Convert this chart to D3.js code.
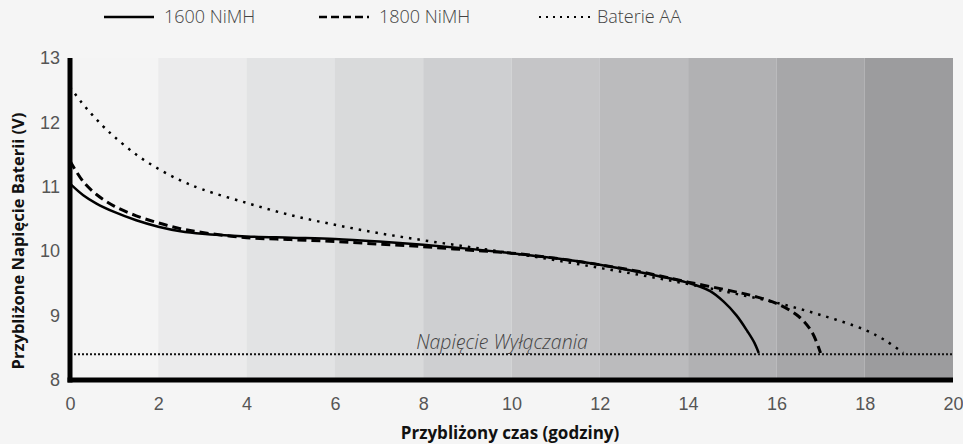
<!DOCTYPE html>
<meta charset="utf-8">
<style>
  body { margin: 0; background: #f5f5f5; }
  svg { display: block; font-family: "Open Sans", sans-serif; }
  .tick text { fill: #555; font-size: 18px; font-weight: 300; }
  .title { font-weight: bold; fill: #111; }
  .legend text { font-size: 18px; fill: #444; font-weight: 300; }
</style>
<body>
<svg width="963" height="444"></svg>
<script src="https://d3js.org/d3.v7.min.js"></script>
<script>

// data
var xTicks = [0, 2, 4, 6, 8, 10, 12, 14, 16, 18, 20];
var yTicks = [8, 9, 10, 11, 12, 13];
var bandShades = ["#f4f4f4", "#ebebec", "#e2e3e4", "#d9dadb", "#cecfd1",
                  "#c5c5c7", "#bbbbbd", "#b1b1b3", "#a7a7a9", "#9c9c9e"];
var cutoffVoltage = 8.4;

var nimh1600 = [[0, 11.05], [0.3, 10.87], [0.6, 10.74], [1, 10.61], [1.5, 10.48], [2, 10.38],
  [2.5, 10.31], [3, 10.27], [4, 10.23], [5, 10.21], [6, 10.19], [7, 10.15], [8, 10.1],
  [9, 10.04], [10, 9.97], [11, 9.89], [12, 9.79], [13, 9.66], [14, 9.51], [14.5, 9.38],
  [14.8, 9.22], [15.1, 9.0], [15.35, 8.75], [15.5, 8.58], [15.6, 8.42]];

var nimh1800 = [[0, 11.4], [0.3, 11.08], [0.6, 10.88], [1, 10.7], [1.5, 10.55], [2, 10.44],
  [2.5, 10.35], [3, 10.29], [4, 10.21], [5, 10.18], [6, 10.15], [7, 10.11], [8, 10.07],
  [9, 10.02], [10, 9.97], [11, 9.89], [12, 9.79], [13, 9.67], [14, 9.52], [15, 9.38],
  [15.5, 9.3], [16, 9.19], [16.5, 8.99], [16.8, 8.75], [17, 8.42]];

var bateriaAA = [[0, 12.55], [0.25, 12.32], [0.5, 12.12], [0.75, 11.94], [1, 11.78],
  [1.5, 11.5], [2, 11.28], [2.5, 11.1], [3, 10.96], [4, 10.75], [5, 10.56], [6, 10.41],
  [7, 10.28], [8, 10.17], [9, 10.07], [10, 9.97], [11, 9.86], [12, 9.74], [13, 9.62],
  [14, 9.49], [15, 9.35], [16, 9.2], [17, 9.01], [18, 8.78], [18.5, 8.6], [18.87, 8.42]];

var series = [
  { name: "1600 NiMH", values: nimh1600, width: 2.5, dash: null },
  { name: "1800 NiMH", values: nimh1800, width: 3, dash: "9,5" },
  { name: "Baterie AA", values: bateriaAA, width: 2.5, dash: "2.5,6" }
];

var svg = d3.select("svg");

var x = d3.scaleLinear().domain([0, 20]).range([70, 953]);
var y = d3.scaleLinear().domain([8, 13]).range([380, 58]);

// shaded bands, one per 2 hours
svg.append("g")
    .selectAll("rect")
    .data(bandShades)
    .enter().append("rect")
    .attr("x", function(d, i) { return x(i * 2); })
    .attr("y", y(13))
    .attr("width", function(d, i) { return x(i * 2 + 2) - x(i * 2); })
    .attr("height", y(8) - y(13))
    .attr("fill", function(d) { return d; });

// cutoff line
svg.append("line")
    .attr("x1", x(0)).attr("x2", x(20))
    .attr("y1", y(cutoffVoltage)).attr("y2", y(cutoffVoltage))
    .attr("stroke", "#111")
    .attr("stroke-width", 2)
    .attr("stroke-dasharray", "2,2");

svg.append("text")
    .attr("x", 502)
    .attr("y", y(cutoffVoltage) - 5)
    .attr("text-anchor", "middle")
    .style("font-size", "19.5px")
    .style("font-style", "italic")
    .style("font-weight", 300)
    .style("fill", "#444")
    .text("Napięcie Wyłączania");

var line = d3.line()
    .x(function(d) { return x(d[0]); })
    .y(function(d) { return y(d[1]); })
    .curve(d3.curveCatmullRom.alpha(0.5));

svg.append("g")
    .selectAll("path")
    .data(series)
    .enter().append("path")
    .attr("d", function(d) { return line(d.values); })
    .attr("fill", "none")
    .attr("stroke", "#000")
    .attr("stroke-width", function(d) { return d.width; })
    .attr("stroke-dasharray", function(d) { return d.dash; });

// axes
var xAxis = svg.append("g")
    .attr("transform", "translate(0," + y(8) + ")")
    .call(d3.axisBottom(x).tickValues(xTicks).tickSize(0).tickPadding(17));
xAxis.select(".domain").remove();

var yAxis = svg.append("g")
    .attr("transform", "translate(" + x(0) + ",0)")
    .call(d3.axisLeft(y).tickValues(yTicks).tickFormat(d3.format("d")).tickSize(0).tickPadding(10));
yAxis.select(".domain").remove();

svg.append("line")
    .attr("x1", x(0)).attr("x2", x(0))
    .attr("y1", y(13)).attr("y2", y(8) + 2.5)
    .attr("stroke", "#000").attr("stroke-width", 5);

svg.append("line")
    .attr("x1", x(0) - 2.5).attr("x2", x(20))
    .attr("y1", y(8)).attr("y2", y(8))
    .attr("stroke", "#000").attr("stroke-width", 5);

svg.append("text")
    .attr("class", "title")
    .attr("x", 510)
    .attr("y", 439)
    .attr("text-anchor", "middle")
    .style("font-size", "17px")
    .text("Przybliżony czas (godziny)");

svg.append("text")
    .attr("class", "title")
    .attr("transform", "translate(24,241) rotate(-90)")
    .attr("text-anchor", "middle")
    .style("font-size", "16.5px")
    .text("Przybliżone Napięcie Baterii (V)");

// legend
var legendX = [104, 319, 539];
var legend = svg.append("g").attr("class", "legend")
    .selectAll("g")
    .data(series)
    .enter().append("g")
    .attr("transform", function(d, i) { return "translate(" + legendX[i] + ",17)"; });

legend.append("line")
    .attr("x1", 0).attr("x2", function(d, i) { return i == 2 ? 53 : 50; })
    .attr("stroke", "#000")
    .attr("stroke-width", function(d, i) { return i == 2 ? 2 : 2.5; })
    .attr("stroke-dasharray", function(d, i) { return i == 0 ? null : (i == 1 ? "8,4" : "2,5"); });

legend.append("text")
    .attr("x", function(d, i) { return i == 2 ? 58 : 60; })
    .attr("dy", "0.35em")
    .text(function(d) { return d.name; });

</script>
</body>
